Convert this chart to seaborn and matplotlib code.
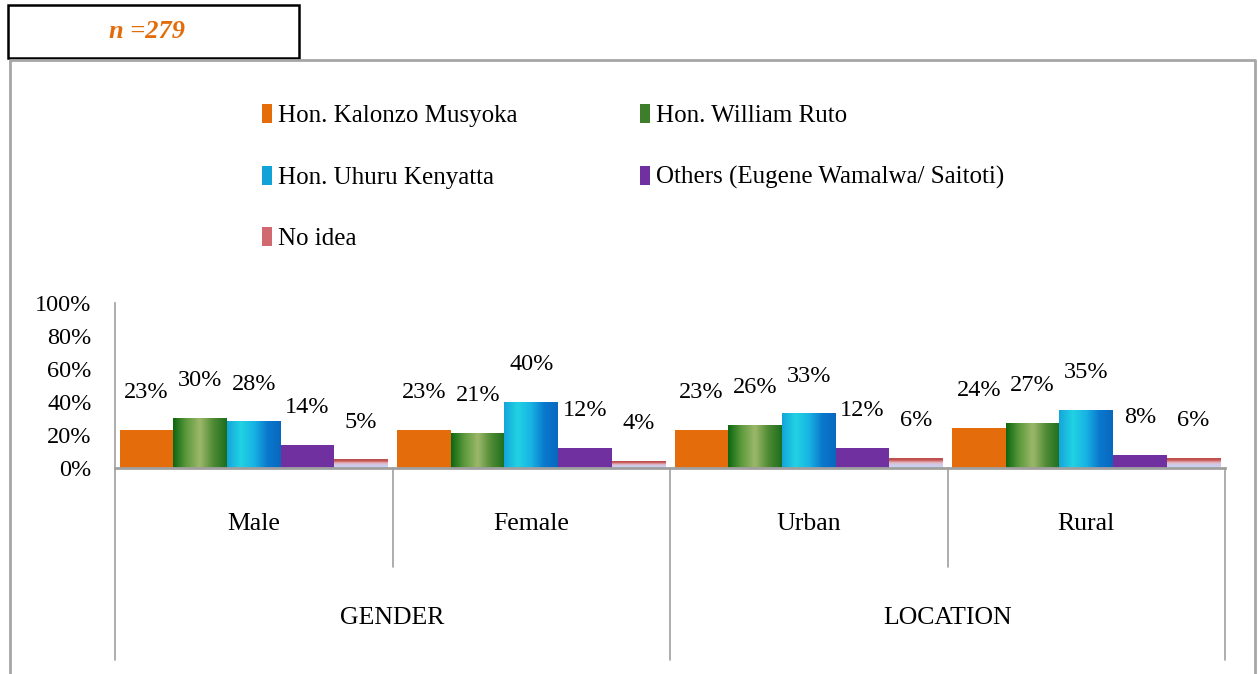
import numpy as np
import pandas as pd
import matplotlib
matplotlib.use('Agg')
import matplotlib.pyplot as plt
import seaborn as sns
from matplotlib.colors import LinearSegmentedColormap
from matplotlib.patches import Rectangle, Patch
from matplotlib.lines import Line2D

# ---- data ----
categories = ['Male', 'Female', 'Urban', 'Rural']
groups = ['GENDER', 'LOCATION']
candidates = ['Hon. Kalonzo Musyoka', 'Hon. William Ruto', 'Hon. Uhuru Kenyatta',
              'Others (Eugene Wamalwa/ Saitoti)', 'No idea']
kalonzo = [23, 23, 23, 24]
ruto = [30, 21, 26, 27]
uhuru = [28, 40, 33, 35]
others = [14, 12, 12, 8]
no_idea = [5, 4, 6, 6]
yticks = [0, 20, 40, 60, 80, 100]
sample_note = 'n =279'

series = [kalonzo, ruto, uhuru, others, no_idea]
colors = ['#E46C0A', '#4E8B30', '#1AA6DC', '#7030A0', '#C9CDEE']

rows = []
for cand, vals in zip(candidates, series):
    for cat, v in zip(categories, vals):
        rows.append({'category': cat, 'candidate': cand, 'value': v})
df = pd.DataFrame(rows)

sns.set_style('white')
plt.rcParams['font.family'] = ['Liberation Serif', 'DejaVu Serif']
plt.rcParams['text.color'] = 'black'
plt.rcParams['ytick.color'] = 'black'
plt.rcParams['xtick.color'] = 'black'

W, H = 1258, 674
fig = plt.figure(figsize=(W / 100, H / 100), dpi=100)

def fx(px):
    return px / W

def fy(py):
    return 1 - py / H

# plot area: 0% at y=468, 100% at y=303, x from 115 to 1225
ax = fig.add_axes([fx(115), fy(468), fx(1225) - fx(115), fy(303) - fy(468)])
sns.barplot(data=df, x='category', y='value', hue='candidate', order=categories,
            hue_order=candidates, palette=colors, width=0.965, saturation=1,
            linewidth=0, legend=False, ax=ax)

# gradient fills like the original office-style bars
green_cmap = LinearSegmentedColormap.from_list('g', ['#0B660F', '#5E9A3E', '#9CB86A', '#4F8A34', '#1C6E1E'])
blue_cmap = LinearSegmentedColormap.from_list('b', ['#14A4DA', '#22D2E2', '#18B4E4', '#0A78CC', '#0868C0'])
none_cmap = LinearSegmentedColormap.from_list('n', ['#C0504D', '#C0504D', '#E4A8B0', '#D8C8E4', '#C6CCEE', '#D6DCF4'])

def shade(bar, cmap, vertical=False):
    x0, w, h = bar.get_x(), bar.get_width(), bar.get_height()
    if vertical:
        grad = np.linspace(0, 1, 256).reshape(-1, 1)
    else:
        grad = np.linspace(0, 1, 256).reshape(1, -1)
    ax.imshow(grad, cmap=cmap, extent=[x0, x0 + w, 0, h], aspect='auto',
              zorder=bar.get_zorder() + 0.1, interpolation='bicubic')

for bar in ax.containers[1]:
    shade(bar, green_cmap)
for bar in ax.containers[2]:
    shade(bar, blue_cmap)
for bar in ax.containers[4]:
    shade(bar, none_cmap, vertical=True)

# value labels
for cont, vals in zip(ax.containers, series):
    for bar, v in zip(cont, vals):
        ax.annotate(f'{v}%', (bar.get_x() + bar.get_width() / 2, bar.get_height()),
                    xytext=(0, 27), textcoords='offset points',
                    ha='center', va='center', fontsize=17.5, color='black', zorder=5)

ax.set_xlim(-0.5, 3.5)
ax.set_ylim(0, 100)
ax.set_yticks(yticks)
ax.set_yticklabels([f'{t}%' for t in yticks], fontsize=17.5)
ax.tick_params(axis='y', direction='out', length=7, color='#A0A0A0', pad=10)
ax.tick_params(axis='x', bottom=False, labelbottom=False)
ax.set_xlabel('')
ax.set_ylabel('')
for s in ['top', 'right']:
    ax.spines[s].set_visible(False)
ax.spines['left'].set_color('#A0A0A0')
ax.spines['left'].set_linewidth(1.2)
ax.spines['bottom'].set_color('#A0A0A0')
ax.spines['bottom'].set_linewidth(2)

# category / group axis below the bars
trans = ax.get_xaxis_transform()
ax_h = 468 - 303
def ay(py):
    return (468 - py) / ax_h

for xv in [-0.5, 1.5, 3.5]:
    ax.plot([xv, xv], [0, ay(660)], transform=trans, color='#A0A0A0', lw=1.2, clip_on=False)
for xv in [0.5, 2.5]:
    ax.plot([xv, xv], [0, ay(567)], transform=trans, color='#A0A0A0', lw=1.2, clip_on=False)
for i, cat in enumerate(categories):
    ax.text(i, ay(524), cat, transform=trans, ha='center', va='center', fontsize=18.5)
for i, g in enumerate(groups):
    ax.text(2 * i + 0.5, ay(618), g, transform=trans, ha='center', va='center', fontsize=18.5)

# outer chart frame
fig.add_artist(Line2D([fx(10), fx(10), fx(1255), fx(1255)], [fy(674), fy(60), fy(60), fy(674)],
                      transform=fig.transFigure, color='#A6A6A6', lw=2))

# sample-size box
fig.add_artist(Rectangle((fx(8), fy(58)), fx(299) - fx(8), fy(5) - fy(58),
                         transform=fig.transFigure, facecolor='white', edgecolor='black', lw=1.8))
fig.text(fx(147), fy(31), sample_note, ha='center', va='center', fontsize=19,
         fontweight='bold', fontstyle='italic', color='#E36C0A')

# legend, row-major like the original
handle_colors = ['#E46C0A', '#3E7E2A', '#12A2DA', '#7030A0', '#D06A70']
handles = [Patch(facecolor=c, edgecolor='none') for c in handle_colors]
order = [0, 2, 4, 1, 3]
fig.legend([handles[i] for i in order], [candidates[i] for i in order],
           loc='upper left', bbox_to_anchor=(fx(262), fy(104)), ncol=2, frameon=False,
           fontsize=18, handlelength=0.4, handleheight=0.8, handletextpad=0.25,
           labelspacing=1.53, columnspacing=4.88, borderpad=0, borderaxespad=0)

fig.savefig('out.png', dpi=100)
